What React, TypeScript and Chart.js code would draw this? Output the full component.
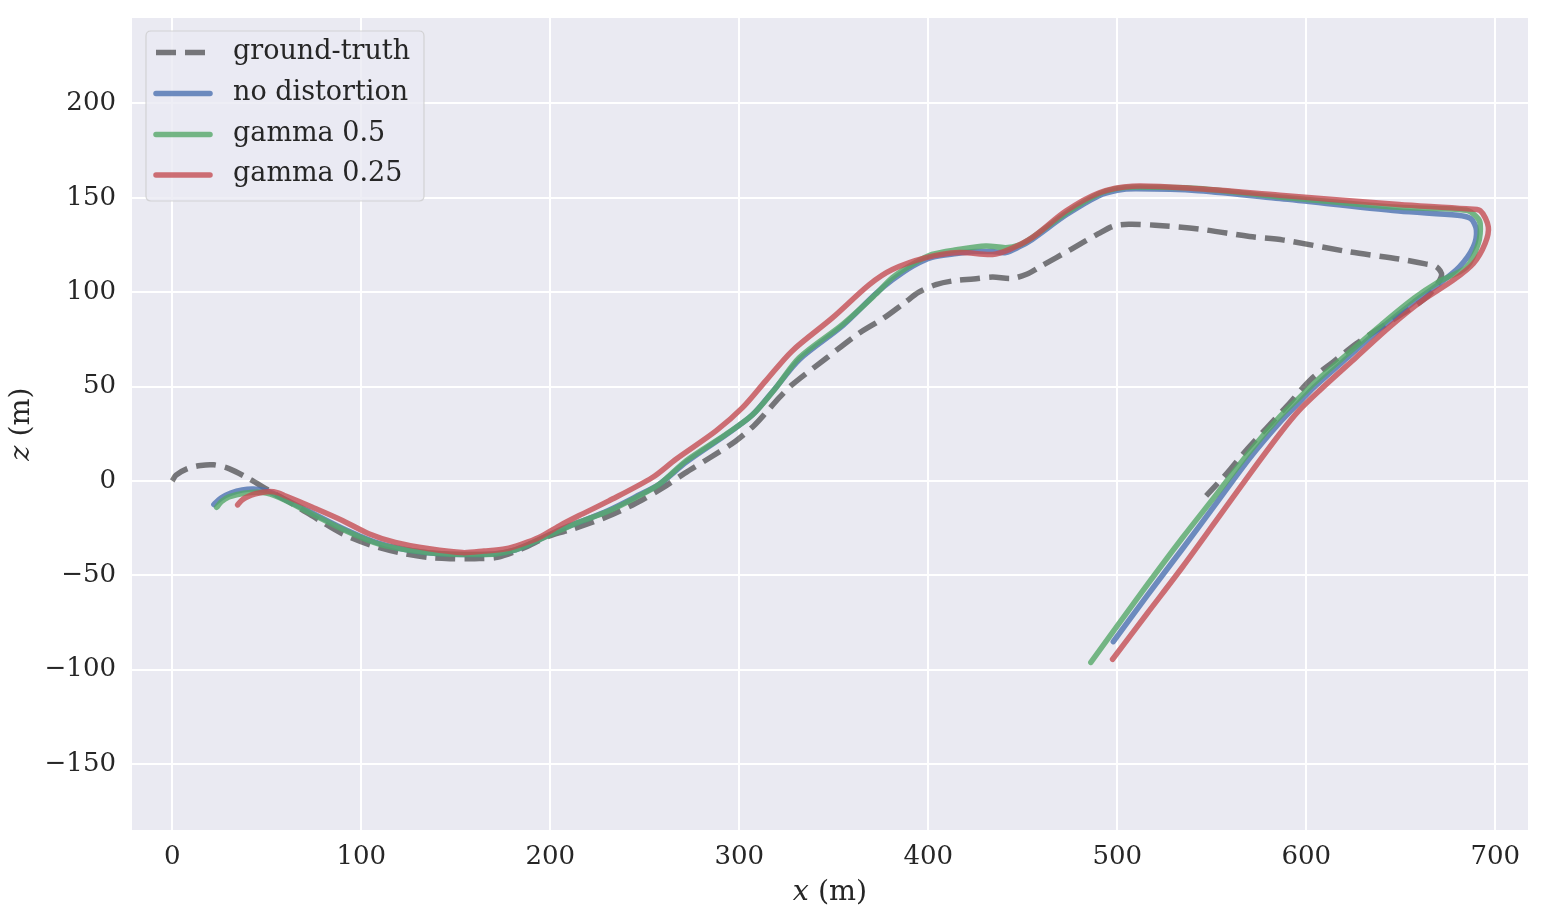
import React, { useEffect, useRef } from "react";
import { Chart, registerables } from "chart.js";

Chart.register(...registerables);

// ---- data (x, z) in metres ----
const groundTruth: [number, number][] = [
  [0, 0], [2, 3], [8, 6.5], [15, 8.2], [22, 8.5], [30, 6.5], [40, 1.5], [51, -5], [65, -13], [78, -21],
  [90, -28], [105, -34], [120, -38], [135, -40.5], [147, -41.2], [160, -41.2], [172, -40.5], [185, -36],
  [200, -29], [212, -25.5], [230, -19], [245, -12], [259, -4], [271, 4], [284, 12], [298, 21], [308, 29.5],
  [314, 36], [321, 44], [328, 51], [346, 65], [363, 78], [376, 86], [387, 94], [395, 100], [404, 104],
  [413, 106], [424, 107], [434, 108], [444, 107.3], [452, 109.5], [460, 114], [476, 123], [490, 131],
  [498, 135], [506, 136], [520, 135.5], [543, 133.5], [570, 129.5], [588, 127.6], [622, 121.5],
  [649, 117.6], [663, 115], [669, 113.4], [671.6, 109], [667, 101], [661.7, 95.8], [651, 88.7],
  [639, 81], [626.6, 72.8], [614.3, 63.1], [602, 53.4], [591, 41], [579, 28], [568, 16], [558, 4],
  [547, -8],
];

const noDistortion: [number, number][] = [
  [22, -12.5], [26, -9], [31, -6.5], [37, -4.8], [43, -4.3], [50, -5.3], [57, -8.5], [74, -17], [92, -26],
  [109, -33], [127, -37], [145, -38.8], [160, -39], [171, -38.6], [180, -37], [189, -33.5], [206, -25.5],
  [215, -22], [231, -15.5], [245, -8.5], [258, -1.5], [272, 10], [293, 24.5], [307, 35], [319, 49],
  [332, 64.5], [355, 82.5], [372, 99], [381, 106.5], [392, 114], [402, 118.5], [415, 120.5], [425, 121.5],
  [434, 121.5], [441, 121], [448, 124], [455, 128], [473, 141], [490, 151], [500, 154], [510, 154.8],
  [543, 153.8], [586, 149.6], [649, 143], [680, 140.8], [687, 139], [690, 133], [688.4, 124], [681, 113.4],
  [669, 103.5], [656.6, 94.5], [639, 80.5], [621.4, 65], [604, 49.5], [596.7, 42], [586, 31],
  [570, 12], [553, -11], [535, -35.3], [516, -60.5], [497.9, -85.2],
];

const gamma05: [number, number][] = [
  [23.5, -14], [26, -11], [30, -8.5], [38, -6.5], [47.8, -6.2], [56.6, -8.8], [74, -17.6], [92, -26.5],
  [109.5, -33.5], [127, -37], [145, -38.8], [160, -39], [171, -38.8], [180, -37], [189, -33.5],
  [206.5, -25.6], [215, -22], [231, -16], [245, -9], [257.7, -1.8], [271.8, 10.6], [293, 24.7], [307, 35],
  [319.4, 49.4], [331.7, 65.3], [354.7, 83], [372.3, 99], [381, 107.7], [392, 115], [402, 120],
  [415, 122.5], [430.5, 124.5], [441, 123.6], [448, 125], [455, 129], [473, 142], [490, 152], [500, 155],
  [510, 155.8], [543, 155], [586, 150.5], [649, 145], [684.8, 143.4], [690, 140], [692, 136.4],
  [691, 125.8], [684.8, 113.4], [670, 105.5], [657, 96.8], [640, 83], [622, 67.5], [606, 53.5],
  [596.7, 44.5], [586, 34], [570, 15.5], [553, -6.5], [534.6, -30], [510, -63], [486, -96.2],
];

const gamma025: [number, number][] = [
  [34.6, -12.7], [36.5, -10.5], [39, -8.8], [44, -6.8], [51.3, -5.6], [56, -6.3], [60, -8], [74.2, -14],
  [90, -21], [104, -28], [118, -32.6], [136, -36], [153.6, -38], [165, -37.2], [176.5, -36], [185, -33.5],
  [194, -30], [204.8, -23.8], [215, -18.5], [231, -10.6], [254, 1.8], [266.5, 11.5], [287.7, 26.5],
  [301.7, 38.8], [314, 53], [328, 68.9], [349.4, 86.5], [368.8, 104], [381, 112], [398.8, 118.3],
  [416.4, 121], [434, 120], [443, 122.7], [455, 129], [472.8, 143], [490.5, 152.7], [508, 156.2],
  [543, 154.8], [586, 151.4], [649, 146.5], [684.5, 144.2], [692, 143.2], [696.3, 134.6], [694.6, 125.8],
  [688.4, 115.2], [677.8, 106.4], [661.7, 95.8], [644.1, 81.6], [626.6, 65.7], [607.2, 48.1],
  [596.3, 37.5], [586, 25], [570, 3.5], [552, -21.5], [534.6, -45.5], [516, -70], [497.5, -94.5],
];

const seriesLabels = ["ground-truth", "no distortion", "gamma 0.5", "gamma 0.25"];
const xTickStep = 100;
const yTickStep = 50;
const xRange = [-21.3, 717.3];
const yRange = [-185, 245.3];

const COLORS = [
  "rgba(0,0,0,0.5)",
  "rgba(76,114,176,0.8)",
  "rgba(85,168,104,0.8)",
  "rgba(196,78,82,0.8)",
];
const TEXT = "#262626";
const FONT = "'DejaVu Serif', serif";
const DASH = [20, 9];
const LW = 5.5;

const toPts = (arr: [number, number][]) => arr.map(([x, y]) => ({ x, y }));

const decorPlugin = {
  id: "decor",
  beforeDraw(chart: any) {
    const { ctx, chartArea: a } = chart;
    ctx.save();
    ctx.fillStyle = "#EAEAF2";
    ctx.fillRect(a.left, a.top, a.right - a.left, a.bottom - a.top);
    ctx.restore();
  },
  afterDraw(chart: any) {
    const { ctx, chartArea: a } = chart;
    ctx.save();
    // axis titles
    ctx.fillStyle = TEXT;
    ctx.textBaseline = "alphabetic";
    const drawTitle = (italic: string, rest: string, cx: number, cy: number, rot: number) => {
      ctx.save();
      ctx.translate(cx, cy);
      ctx.rotate(rot);
      ctx.font = `italic 28.5px ${FONT}`;
      const w1 = ctx.measureText(italic).width;
      ctx.font = `28.5px ${FONT}`;
      const w2 = ctx.measureText(rest).width;
      const start = -(w1 + w2) / 2;
      ctx.textAlign = "left";
      ctx.font = `italic 28.5px ${FONT}`;
      ctx.fillText(italic, start, 0);
      ctx.font = `28.5px ${FONT}`;
      ctx.fillText(rest, start + w1, 0);
      ctx.restore();
    };
    drawTitle("x", " (m)", (a.left + a.right) / 2, 900, 0);
    drawTitle("z", " (m)", 28.5, (a.top + a.bottom) / 2, -Math.PI / 2);

    // legend
    const bx = 146, by = 31, bw = 278, bh = 170, r = 5;
    ctx.beginPath();
    ctx.moveTo(bx + r, by);
    ctx.lineTo(bx + bw - r, by);
    ctx.quadraticCurveTo(bx + bw, by, bx + bw, by + r);
    ctx.lineTo(bx + bw, by + bh - r);
    ctx.quadraticCurveTo(bx + bw, by + bh, bx + bw - r, by + bh);
    ctx.lineTo(bx + r, by + bh);
    ctx.quadraticCurveTo(bx, by + bh, bx, by + bh - r);
    ctx.lineTo(bx, by + r);
    ctx.quadraticCurveTo(bx, by, bx + r, by);
    ctx.closePath();
    ctx.fillStyle = "rgba(234,234,242,0.8)";
    ctx.fill();
    ctx.strokeStyle = "rgba(204,204,204,0.8)";
    ctx.lineWidth = 1.2;
    ctx.stroke();

    const rows = [52.5, 93.5, 134.5, 175];
    chart.data.datasets.forEach((ds: any, i: number) => {
      const y = rows[i];
      ctx.save();
      ctx.strokeStyle = ds.borderColor;
      ctx.lineWidth = LW;
      ctx.beginPath();
      if (i === 0) {
        ctx.lineCap = "butt";
        ctx.setLineDash(DASH);
        ctx.moveTo(156, y);
        ctx.lineTo(206, y);
      } else {
        ctx.lineCap = "round";
        ctx.moveTo(156, y);
        ctx.lineTo(210, y);
      }
      ctx.stroke();
      ctx.restore();
      ctx.fillStyle = TEXT;
      ctx.font = `27px ${FONT}`;
      ctx.textAlign = "left";
      ctx.textBaseline = "middle";
      ctx.fillText(ds.label, 233, y - 1);
    });
    ctx.restore();
  },
};

const fmt = (v: number) => (v < 0 ? "\u2212" + Math.abs(v) : String(v));

export default function App() {
  const ref = useRef<HTMLCanvasElement | null>(null);
  useEffect(() => {
    if (!ref.current) return;
    const series = [groundTruth, noDistortion, gamma05, gamma025];
    const chart = new Chart(ref.current, {
      type: "scatter",
      data: {
        datasets: series.map((s, i) => ({
          label: seriesLabels[i],
          data: toPts(s),
          showLine: true,
          borderColor: COLORS[i],
          backgroundColor: COLORS[i],
          borderWidth: LW,
          borderDash: i === 0 ? DASH : [],
          borderCapStyle: i === 0 ? "butt" : "round",
          borderJoinStyle: "round",
          pointRadius: 0,
          pointHoverRadius: 0,
          tension: 0.3,
          order: 3 - i,
        })) as any,
      },
      options: {
        animation: false,
        responsive: true,
        maintainAspectRatio: false,
        layout: { padding: { left: 0, top: 18, right: 17, bottom: 0 } },
        plugins: { legend: { display: false }, tooltip: { enabled: false } },
        scales: {
          x: {
            type: "linear",
            min: xRange[0],
            max: xRange[1],
            afterFit: (s: any) => {
              s.height = 92;
              s.paddingLeft = 0;
              s.paddingRight = 0;
            },
            border: { display: false },
            grid: { color: "#ffffff", lineWidth: 2, drawTicks: false },
            ticks: {
              stepSize: xTickStep,
              includeBounds: false,
              color: TEXT,
              font: { family: FONT, size: 26 },
              padding: 12,
              maxRotation: 0,
              callback: (v: any) => fmt(Number(v)),
            },
          },
          y: {
            type: "linear",
            min: yRange[0],
            max: yRange[1],
            afterFit: (s: any) => {
              s.width = 132;
              s.paddingTop = 0;
              s.paddingBottom = 0;
            },
            border: { display: false },
            grid: { color: "#ffffff", lineWidth: 2, drawTicks: false },
            ticks: {
              stepSize: yTickStep,
              includeBounds: false,
              color: TEXT,
              font: { family: FONT, size: 26 },
              padding: 16,
              callback: (v: any) => fmt(Number(v)),
            },
          },
        },
      },
      plugins: [decorPlugin],
    });
    return () => chart.destroy();
  }, []);
  return (
    <div style={{ position: "fixed", left: 0, top: 0, width: 1545, height: 922, background: "#ffffff" }}>
      <canvas ref={ref} />
    </div>
  );
}
